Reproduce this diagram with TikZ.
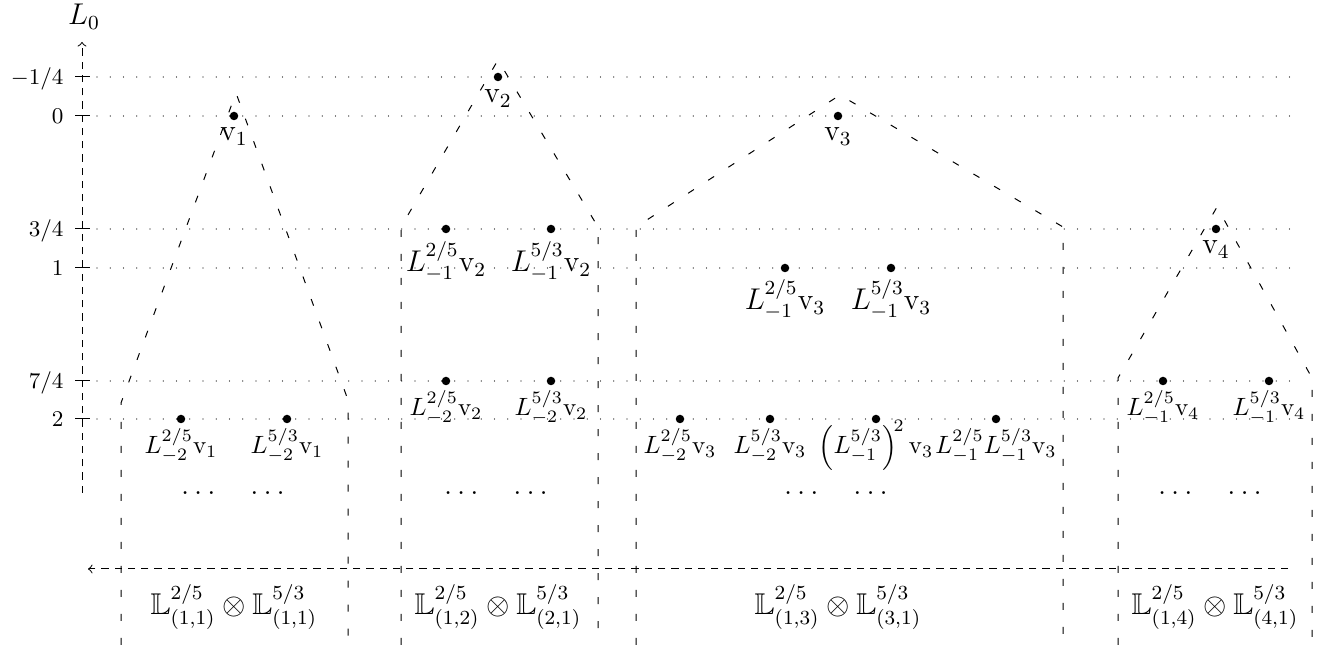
\documentclass[tikz,border=0pt]{standalone}
\usepackage{amssymb}
\begin{document}
\begin{tikzpicture}[x=0.4pt,y=-0.4pt,
  vdot/.style={circle,fill=black,inner sep=0pt,minimum size=3.4pt},
  axisline/.style={line width=0.4pt,dash pattern=on 2.9pt off 2.4pt},
  houseline/.style={line width=0.4pt,dash pattern=on 2.8pt off 6.8pt},
  lvline/.style={line width=0.55pt,line cap=round,dash pattern=on 0pt off 5.3pt},
  ticklab/.style={anchor=base east,inner sep=0pt,font=\small},
  biglab/.style={anchor=base,inner sep=0pt,font=\large},
  smalllab/.style={anchor=base,inner sep=0pt,font=\normalsize},
  modlab/.style={anchor=base,inner sep=0pt,font=\large}]
\useasboundingbox (0,0) rectangle (1334,650);

% levels: dotted lines, ticks, tick labels
\foreach \y/\t in {77/{$-1/4$},116/{$0$},229/{$3/4$},268/{$1$},381/{$7/4$},419/{$2$}}{
  \coordinate (ls\y) at (97,\y);
  \coordinate (le\y) at (1293,\y);
  \coordinate (ta\y) at (75,\y);
  \coordinate (tb\y) at (90,\y);
  \draw[lvline] (ls\y) -- (le\y);
  \draw[line width=0.4pt] (ta\y) -- (tb\y);
  \node[ticklab] (tl\y) at (64,\y+8) {\t};
}

% axes
\coordinate (ybot) at (82,493);
\coordinate (ytop) at (82,42);
\draw[axisline,->] (ybot) -- (ytop);
\node[anchor=base,inner sep=0pt,font=\large] (L0) at (84,25) {$L_0$};
\coordinate (xr) at (1288,569);
\coordinate (xl) at (88,569);
\draw[axisline,->] (xr) -- (xl);

% houses
\coordinate (h1a) at (121,645); \coordinate (h1b) at (121,403);
\coordinate (h1c) at (236,93);  \coordinate (h1d) at (348,400);
\coordinate (h1e) at (348,645);
\draw[houseline] (h1a) -- (h1b) -- (h1c) -- (h1d) -- (h1e);
\coordinate (h2a) at (401,645); \coordinate (h2b) at (401,227);
\coordinate (h2c) at (498,60);  \coordinate (h2d) at (598,227);
\coordinate (h2e) at (598,645);
\draw[houseline] (h2a) -- (h2b) -- (h2c) -- (h2d) -- (h2e);
\coordinate (h3a) at (636,645); \coordinate (h3b) at (636,227);
\coordinate (h3c) at (840,95);  \coordinate (h3d) at (1063,227);
\coordinate (h3e) at (1063,645);
\draw[houseline] (h3a) -- (h3b) -- (h3c) -- (h3d) -- (h3e);
\coordinate (h4a) at (1118,645); \coordinate (h4b) at (1118,378);
\coordinate (h4c) at (1217,207); \coordinate (h4d) at (1312,378);
\coordinate (h4e) at (1312,645);
\draw[houseline] (h4a) -- (h4b) -- (h4c) -- (h4d) -- (h4e);

% module 1
\node[vdot] (v1) at (234,116) {};
\node[biglab] (lv1) at (234,141) {$\mathrm{v}_1$};
\node[vdot] (a1) at (181,419) {};
\node[smalllab] (la1) at (181,454) {$L^{2/5}_{-2}\mathrm{v}_1$};
\node[vdot] (b1) at (287,419) {};
\node[smalllab] (lb1) at (287,454) {$L^{5/3}_{-2}\mathrm{v}_1$};
\node[modlab] (d1) at (233,495) {$\dots\quad\dots$};
\node[modlab] (m1) at (234,615) {$\mathbb{L}^{2/5}_{(1,1)}\otimes\mathbb{L}^{5/3}_{(1,1)}$};

% module 2
\node[vdot] (v2) at (498,77) {};
\node[biglab] (lv2) at (498,103) {$\mathrm{v}_2$};
\node[vdot] (a2) at (446,229) {};
\node[biglab] (la2) at (446,272) {$L^{2/5}_{-1}\mathrm{v}_2$};
\node[vdot] (b2) at (551,229) {};
\node[biglab] (lb2) at (551,272) {$L^{5/3}_{-1}\mathrm{v}_2$};
\node[vdot] (c2) at (446,381) {};
\node[smalllab] (lc2) at (446,416) {$L^{2/5}_{-2}\mathrm{v}_2$};
\node[vdot] (e2) at (551,381) {};
\node[smalllab] (le2) at (551,416) {$L^{5/3}_{-2}\mathrm{v}_2$};
\node[modlab] (d2) at (496,495) {$\dots\quad\dots$};
\node[modlab] (m2) at (498,615) {$\mathbb{L}^{2/5}_{(1,2)}\otimes\mathbb{L}^{5/3}_{(2,1)}$};

% module 3
\node[vdot] (v3) at (838,116) {};
\node[biglab] (lv3) at (838,141) {$\mathrm{v}_3$};
\node[vdot] (a3) at (785,268) {};
\node[biglab] (la3) at (785,310) {$L^{2/5}_{-1}\mathrm{v}_3$};
\node[vdot] (b3) at (891,268) {};
\node[biglab] (lb3) at (891,310) {$L^{5/3}_{-1}\mathrm{v}_3$};
\node[vdot] (c3) at (680,419) {};
\node[smalllab] (lc3) at (680,454) {$L^{2/5}_{-2}\mathrm{v}_3$};
\node[vdot] (e3) at (770,419) {};
\node[smalllab] (le3) at (770,454) {$L^{5/3}_{-2}\mathrm{v}_3$};
\node[vdot] (f3) at (876,419) {};
\node[smalllab] (lf3) at (876,454) {$\left(L^{5/3}_{-1}\right)^{\!2}\mathrm{v}_3$};
\node[vdot] (g3) at (996,419) {};
\node[smalllab] (lg3) at (996,454) {$L^{2/5}_{-1}L^{5/3}_{-1}\mathrm{v}_3$};
\node[modlab] (d3) at (836,495) {$\dots\quad\dots$};
\node[modlab] (m3) at (838,615) {$\mathbb{L}^{2/5}_{(1,3)}\otimes\mathbb{L}^{5/3}_{(3,1)}$};

% module 4
\node[vdot] (v4) at (1216,229) {};
\node[biglab] (lv4) at (1216,254) {$\mathrm{v}_4$};
\node[vdot] (a4) at (1163,381) {};
\node[smalllab] (la4) at (1163,416) {$L^{2/5}_{-1}\mathrm{v}_4$};
\node[vdot] (b4) at (1269,381) {};
\node[smalllab] (lb4) at (1269,416) {$L^{5/3}_{-1}\mathrm{v}_4$};
\node[modlab] (d4) at (1210,495) {$\dots\quad\dots$};
\node[modlab] (m4) at (1215,615) {$\mathbb{L}^{2/5}_{(1,4)}\otimes\mathbb{L}^{5/3}_{(4,1)}$};
\end{tikzpicture}
\end{document}
